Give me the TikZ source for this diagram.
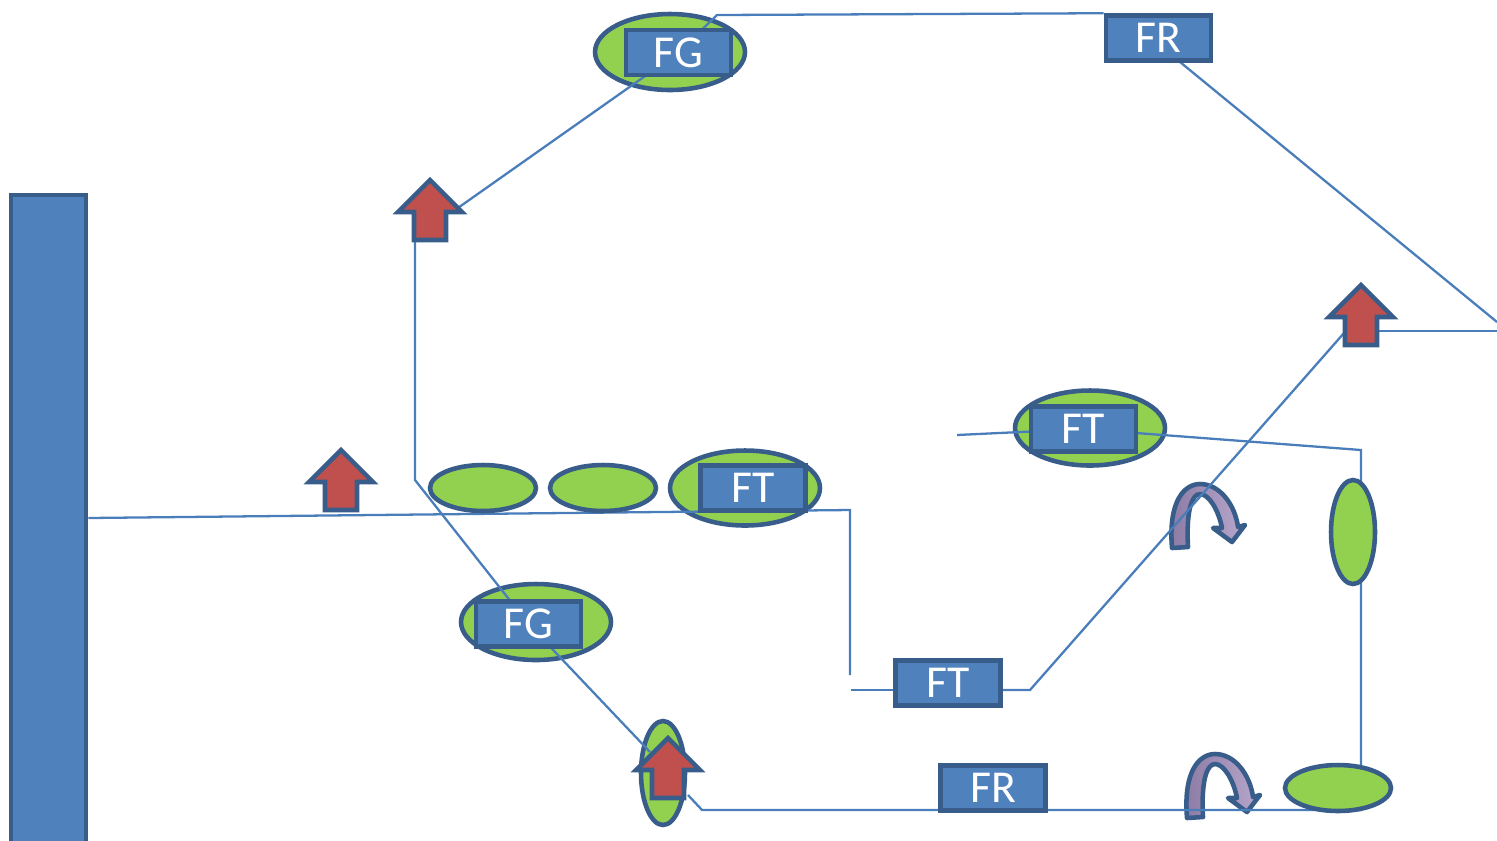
\documentclass[tikz,border=0pt]{standalone}
\usepackage{fontspec}
\setmainfont{Carlito}
\usetikzlibrary{shapes.geometric}
\definecolor{boxblue}{HTML}{4F81BD}
\definecolor{edgeblue}{HTML}{385D8A}
\definecolor{wireblue}{HTML}{4A7EBB}
\definecolor{padgreen}{HTML}{92D050}
\definecolor{liftred}{HTML}{C0504D}
\definecolor{turndark}{HTML}{8B7AA3}
\definecolor{turnlight}{HTML}{B7A7CC}
\pgfdeclarelayer{under}
\pgfdeclarelayer{wires}
\pgfsetlayers{under,wires,main}
\tikzset{
  tagbox/.style={draw=edgeblue, fill=boxblue, line width=2.6pt, text=white, minimum width=2.1cm, minimum height=0.9cm, inner sep=0pt, font=\fontsize{26}{30}\selectfont},
  pad/.style={ellipse, draw=edgeblue, fill=padgreen, line width=2.6pt, inner sep=0pt},
  wire/.style={wireblue, line width=1.3pt},
  lift/.pic={\draw[edgeblue, fill=liftred, line width=2.6pt, miter limit=10] (0,0) -- (32,32) -- (16,32) -- (16,60) -- (-16,60) -- (-16,32) -- (-32,32) -- cycle;},
  turn/.pic={\draw[edgeblue, line width=2.6pt, line join=round, left color=turndark, right color=turnlight]
    (0,0) .. controls (-4,-48) and (13,-64) .. (28,-64) .. controls (48,-64) and (63,-43) .. (66,-21)
    -- (73,-23) -- (60,-6) -- (41,-20) -- (50,-20) .. controls (46,-40) and (36,-54) .. (28,-54)
    .. controls (20,-54) and (14,-38) .. (16,-1) -- cycle;}
}

\begin{document}
\begin{tikzpicture}[x=0.02cm, y=-0.02cm]
          \useasboundingbox (0,0) rectangle (1497,840);
          \begin{pgfonlayer}{under}
            \node[draw=edgeblue, fill=boxblue, line width=2.6pt, minimum width=1.5cm, minimum height=13cm, inner sep=0pt] (wall) at (48.5,520) {};
            % green pads under the boxes
            \node[pad, minimum width=3cm, minimum height=1.52cm] (fgTpad) at (670,52) {};
            \node[pad, minimum width=3cm, minimum height=1.5cm] (ftMpad) at (745,488) {};
            \node[pad, minimum width=3cm, minimum height=1.52cm] (fgBpad) at (536,622) {};
            \node[pad, minimum width=3cm, minimum height=1.5cm] (ftRpad) at (1090,428) {};
            \node[pad, minimum width=0.88cm, minimum height=2.08cm] (lowpad) at (663,773) {};
            \pic at (1172,548) {turn};
            \pic at (1187,818) {turn};
          \end{pgfonlayer}
          \node[pad, minimum width=2.12cm, minimum height=0.92cm] (padA) at (483,488) {};
          \node[pad, minimum width=2.12cm, minimum height=0.92cm] (padB) at (603,488) {};
          \node[pad, minimum width=0.88cm, minimum height=2.08cm] (sidepad) at (1353,532) {};
          \node[pad, minimum width=2.12cm, minimum height=0.92cm] (cornerpad) at (1338,788) {};
          \foreach \x/\y in {430/180, 341/450, 668/738, 1361/285}
            \pic at (\x,\y) {lift};
          % boxes
          \node[tagbox] (fgT) at (678.5,52.5) {FG};
          \node[tagbox] (frT) at (1158.5,38) {FR};
          \node[tagbox] (ftM) at (753,488) {FT};
          \node[tagbox] (ftR) at (1083.5,429) {FT};
          \node[tagbox] (fgB) at (528.5,624) {FG};
          \node[tagbox] (ftB) at (948,683) {FT};
          \node[tagbox] (frB) at (993,788) {FR};
          % wires
          \begin{pgfonlayer}{wires}
            \draw[wire] (wall.east |- 0,518) -- (850,510) -- (850,675);
            \draw[wire] (851,690) -- (ftB.west |- 0,690);
            \draw[wire] (ftB.east |- 0,690) -- (1030,690) -- (1344,333);
            \draw[wire] (1378,331) -- (1497,331);
            \draw[wire] (1497,322) -- (1180,62);
            \draw[wire] (frT.north west) -- (717,15) -- (fgT.center);
            \draw[wire] (fgT.center) -- (455,210);
            \draw[wire] (415,240) -- (415,480) -- (fgB.center);
            \draw[wire] (fgB.center) -- (650,752);
            \draw[wire] (688,795) -- (702,810) -- (1361,810) -- (1361,450) -- (ftR.center);
            \draw[wire] (957,435) -- (ftR.center);
          \end{pgfonlayer}
        \end{tikzpicture}
\end{document}
